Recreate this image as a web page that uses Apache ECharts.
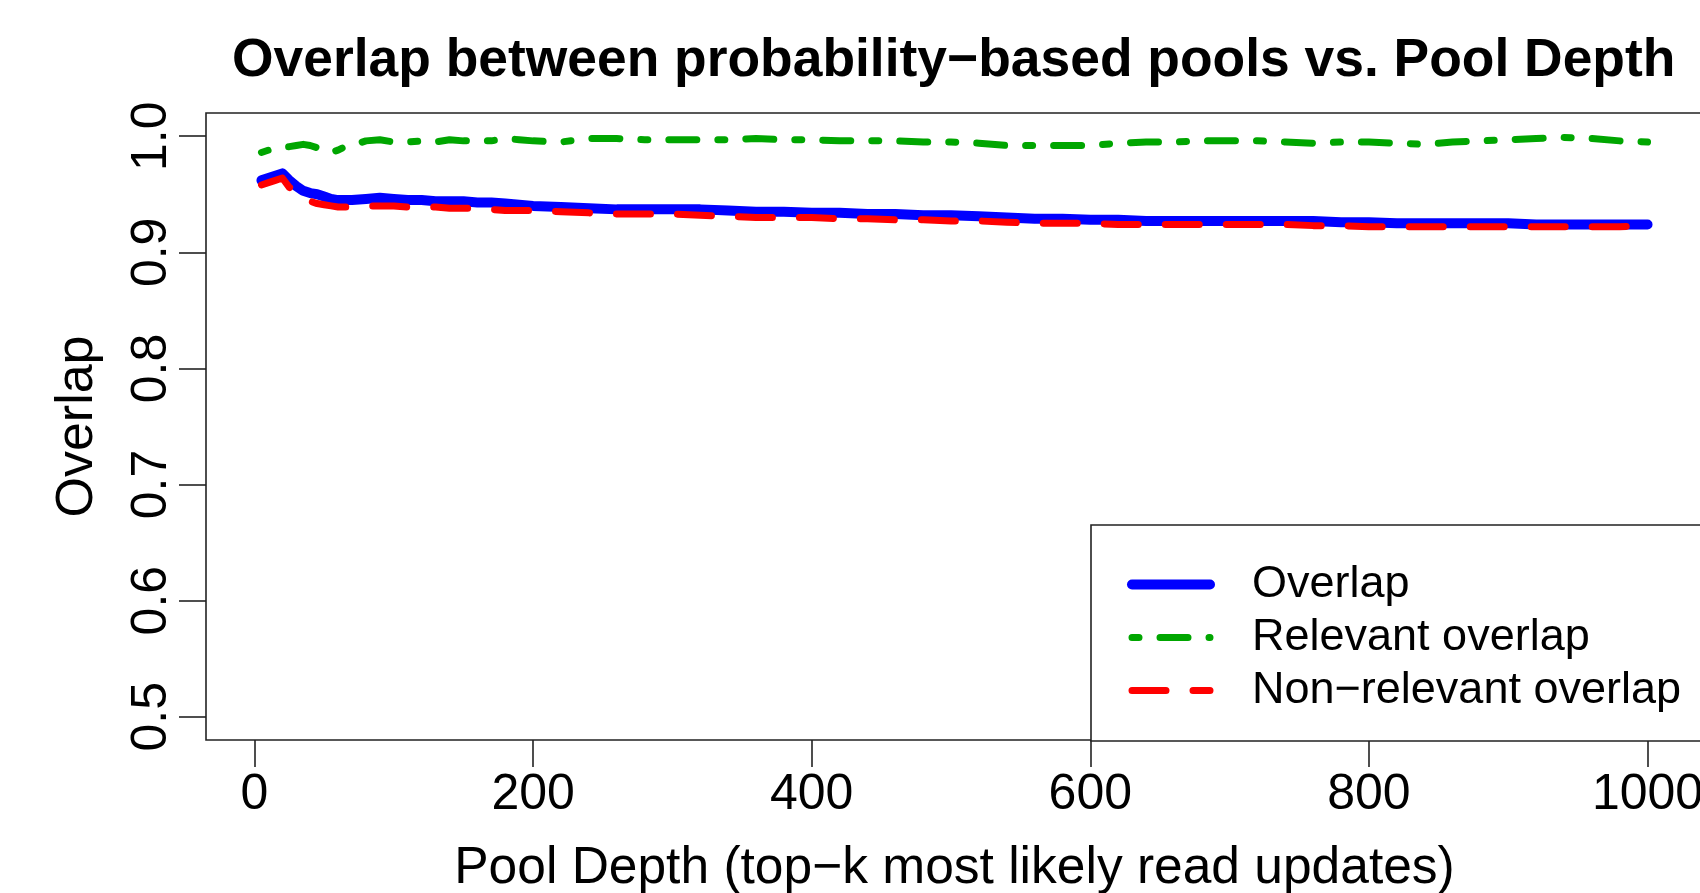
<!DOCTYPE html>
<html>
<head>
<meta charset="utf-8">
<script src="https://cdn.jsdelivr.net/npm/echarts@6/dist/echarts.min.js"></script>
<style>
  html, body { margin: 0; padding: 0; background: #fff; overflow: hidden; }
  #chart { width: 1700px; height: 893px; }
</style>
</head>
<body>
<div id="chart"></div>
<script>
// Pool depth (x) values
const depth = [5,10,15,20,25,30,35,40,45,50,55,60,65,70,80,90,100,110,120,130,140,150,160,170,180,190,200,
  220,240,260,280,300,320,340,360,380,400,420,440,460,480,500,520,540,560,580,600,620,640,660,680,700,
  720,740,760,780,800,820,840,860,880,900,920,940,960,980,1000];

const overlap = [0.962,0.964,0.966,0.968,0.962,0.957,0.953,0.951,0.950,0.948,0.946,0.945,0.945,0.945,0.946,0.947,0.946,0.945,0.945,0.944,0.944,0.944,0.943,0.943,0.942,0.941,0.940,
  0.939,0.938,0.937,0.937,0.937,0.937,0.936,0.935,0.935,0.934,0.934,0.933,0.933,0.932,0.932,0.931,0.930,0.929,0.929,0.928,0.928,0.927,0.927,0.927,0.927,
  0.927,0.927,0.927,0.926,0.926,0.925,0.925,0.925,0.925,0.925,0.924,0.924,0.924,0.924,0.924];

const relevantOverlap = [0.986,0.988,0.990,0.991,0.991,0.992,0.993,0.992,0.990,0.987,0.986,0.988,0.991,0.992,0.996,0.997,0.995,0.995,0.996,0.995,0.997,0.996,0.996,0.996,0.998,0.997,0.996,
  0.995,0.998,0.998,0.997,0.997,0.997,0.997,0.998,0.997,0.997,0.996,0.996,0.996,0.995,0.995,0.994,0.992,0.992,0.992,0.992,0.994,0.995,0.995,0.996,0.996,
  0.996,0.995,0.994,0.995,0.995,0.994,0.993,0.995,0.996,0.997,0.998,0.999,0.998,0.996,0.995];

const nonRelevantOverlap = [0.958,0.960,0.962,0.964,0.956,0.952,0.948,0.944,0.942,0.941,0.940,0.939,0.939,0.939,0.940,0.940,0.940,0.939,0.939,0.939,0.938,0.938,0.938,0.937,0.936,0.936,0.936,
  0.935,0.934,0.933,0.933,0.933,0.932,0.931,0.930,0.930,0.930,0.929,0.929,0.928,0.928,0.927,0.927,0.926,0.925,0.925,0.925,0.924,0.924,0.924,0.924,0.924,
  0.924,0.924,0.923,0.923,0.922,0.922,0.922,0.922,0.922,0.922,0.922,0.922,0.922,0.922,0.923];

const xTicks = [0,200,400,600,800,1000];
const yTicks = [0.5,0.6,0.7,0.8,0.9,1.0];
const seriesNames = ['Overlap','Relevant overlap','Non\u2212relevant overlap'];

const FONT = 'Liberation Sans, Arial, Helvetica, sans-serif';
const AX = '#222';

function pairs(ys) { return depth.map((d, i) => [d, ys[i]]); }

const chart = echarts.init(document.getElementById('chart'), null, { renderer: 'canvas' });
chart.setOption({
  animation: false,
  backgroundColor: '#fff',
  title: {
    text: 'Overlap between probability\u2212based pools vs. Pool Depth',
    left: 232,
    top: 35,
    padding: 0,
    textStyle: { fontFamily: FONT, fontWeight: 'bold', fontSize: 53.4, color: '#000' }
  },
  grid: {
    left: 206, top: 113, right: -3, bottom: 153,
    show: true, borderColor: AX, borderWidth: 1.6, backgroundColor: 'transparent',
    containLabel: false,
    outerBoundsMode: 'none'
  },
  legend: {
    data: seriesNames,
    orient: 'vertical',
    left: 1091,
    top: 525,
    padding: [37, 40, 28, 36],
    itemWidth: 78,
    itemHeight: 20,
    itemGap: 8,
    borderColor: AX,
    borderWidth: 1.6,
    backgroundColor: '#fff',
    selectedMode: false,
    itemStyle: { opacity: 0, borderWidth: 0 },
    lineStyle: { width: 'inherit', type: 'inherit', cap: 'inherit' },
    textStyle: { fontFamily: FONT, fontSize: 45, color: '#000', padding: [0, 0, 0, 37] }
  },
  xAxis: {
    type: 'value',
    min: -34.8,
    max: 1039.8,
    name: 'Pool Depth (top\u2212k most likely read updates)',
    nameLocation: 'middle',
    nameGap: 103,
    nameTextStyle: { fontFamily: FONT, fontSize: 51.5, color: '#000' },
    axisLine: { show: false, onZero: false },
    splitLine: { show: false },
    axisTick: { show: true, customValues: xTicks, length: 27, inside: false, lineStyle: { color: AX, width: 1.6 } },
    axisLabel: { customValues: xTicks, fontFamily: FONT, fontSize: 50, color: '#000', margin: 30,
      formatter: v => String(v) }
  },
  yAxis: {
    type: 'value',
    min: 0.48,
    max: 1.02,
    name: 'Overlap',
    nameLocation: 'middle',
    nameGap: 102,
    nameRotate: 90,
    nameTextStyle: { fontFamily: FONT, fontSize: 52, color: '#000' },
    axisLine: { show: false, onZero: false },
    splitLine: { show: false },
    axisTick: { show: true, customValues: yTicks, length: 27, inside: false, lineStyle: { color: AX, width: 1.6 } },
    axisLabel: { customValues: yTicks, rotate: 90, fontFamily: FONT, fontSize: 50, color: '#000', margin: 29,
      formatter: v => Number(v).toFixed(1) }
  },
  series: [
    {
      name: seriesNames[0], type: 'line', data: pairs(overlap),
      symbol: 'none', showSymbol: false, smooth: false,
      lineStyle: { color: '#0000ff', width: 10, cap: 'round', join: 'round' },
      itemStyle: { color: '#0000ff' }
    },
    {
      name: seriesNames[1], type: 'line', data: pairs(relevantOverlap),
      symbol: 'none', showSymbol: false, smooth: false,
      lineStyle: { color: '#00a600', width: 7, type: [7, 21, 28, 21], cap: 'round', join: 'round' },
      itemStyle: { color: '#00a600' }
    },
    {
      name: seriesNames[2], type: 'line', data: pairs(nonRelevantOverlap),
      symbol: 'none', showSymbol: false, smooth: false,
      lineStyle: { color: '#ff0000', width: 7, type: [34, 27], cap: 'round', join: 'round' },
      itemStyle: { color: '#ff0000' }
    }
  ]
});
</script>
</body>
</html>
